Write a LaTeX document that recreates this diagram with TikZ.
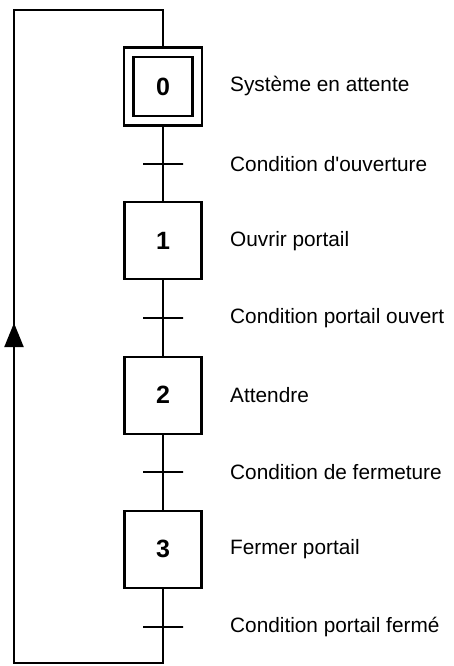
\documentclass[tikz,border=0pt]{standalone}
\usepackage{fontspec}
\setmainfont{Liberation Sans}
\usetikzlibrary{
  arrows.meta,
  math,
}

\begin{document}
\begin{tikzpicture}[
  x=1pt,
  y=-1pt,
  stage box/.style={
    draw,
    line width=2.2pt,
    minimum size=77pt,
    inner sep=0pt,
    font={\fontsize{25}{25}\selectfont\bfseries},
  },
  trans/.style={
    draw,
    line width=2pt,
    minimum width=40pt,
    minimum height=0pt,
    inner sep=0pt,
  },
  link/.style={
    draw,
    line width=2pt,
  },
  arrow/.style={
    -{Triangle[width=19pt,length=24pt]},
    line width=2pt,
  },
  comment/.style={
    anchor=west,
    inner sep=0pt,
    font={\fontsize{20.8}{21}\selectfont},
  },
]
  \useasboundingbox (0,0) rectangle (454,666);

  \tikzmath{
    \xc = 163;
    \ytop = 86.5;
    \dy = 154.3;
    \xtext = 230;
  }

  %%%%%%%%%%%%%%%%%%%% STEPS %%%%%%%%%%%%%%%%%%%%

  \node[stage box, minimum size=59pt] (step0) at (\xc,\ytop) {0};
  \node[stage box, minimum size=78pt] (initial) at (\xc,\ytop) {};

  \foreach \s in {1,2,3} {
    \tikzmath { \ys = \ytop + \s * \dy; }
    \node[stage box] (step\s) at (\xc,\ys) {\s};
  }

  \foreach \s/\txt in {0/Système en attente,1/Ouvrir portail,
                       2/Attendre,3/Fermer portail} {
    \tikzmath { \ys = \ytop + \s * \dy; }
    \node[comment] (action\s) at (\xtext,\ys) {\txt};
  }

  %%%%%%%%%%%%%%%%%%%% TRANSITIONS %%%%%%%%%%%%%%%%%%%%

  \foreach \t/\txt in {0/Condition d\textquotesingle ouverture,
                       1/Condition portail ouvert,
                       2/Condition de fermeture,
                       3/Condition portail fermé} {
    \tikzmath { \yt = \ytop + (\t + 0.5) * \dy; }
    \node[trans] (trans\t) at (\xc,\yt) {};
    \node[comment] (cond\t) at (\xtext,\yt) {\txt};
  }

  \draw[link] (initial) -- (trans0) -- (step1) -- (trans1)
    -- (step2) -- (trans2) -- (step3) -- (trans3);

  %%%%%%%%%%%%%%%%%%%% LOOP %%%%%%%%%%%%%%%%%%%%

  \coordinate (loop bottom) at (\xc,663);
  \coordinate (loop bl) at (14,663);
  \coordinate (loop tip) at (14,323);
  \coordinate (loop tl) at (14,10);
  \coordinate (loop top) at (\xc,10);

  \draw[link] (trans3) -- (loop bottom) -- (loop bl) -- (loop tip)
    -- (loop tl) -- (loop top) -- (initial);
  \draw[arrow] (loop bl) -- (loop tip);
\end{tikzpicture}
\end{document}
